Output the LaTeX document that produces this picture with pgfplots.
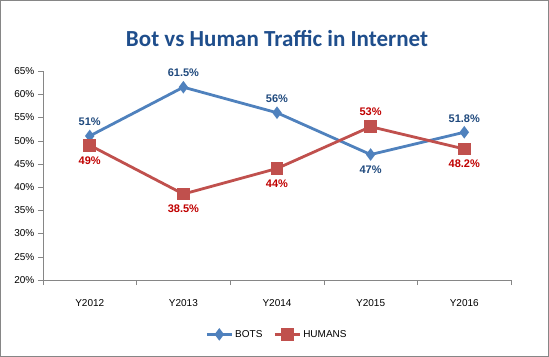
\documentclass[border=0pt]{standalone}
\usepackage{pgfplots}
\pgfplotsset{compat=1.18}
\usepackage{fontspec}
\setmainfont{Liberation Sans}
\newfontfamily\titlefont{Carlito}
\definecolor{botc}{HTML}{4F81BD}
\definecolor{humc}{HTML}{C0504D}
\definecolor{botl}{HTML}{1F497D}
\definecolor{huml}{HTML}{C00000}
\definecolor{titlec}{HTML}{1F4E8C}
\definecolor{axc}{HTML}{868686}
\begin{document}
\begin{tikzpicture}
\begin{axis}[
  scale only axis,
  width=468pt, height=209pt,
  xmin=-0.5, xmax=4.5,
  ymin=20, ymax=65,
  axis lines=left,
  axis line style={axc, -},
  xtick={0,1,2,3,4},
  xticklabels={Y2012,Y2013,Y2014,Y2015,Y2016},
  major x tick style={draw=none},
  minor xtick={-0.5,0.5,1.5,2.5,3.5,4.5},
  minor x tick style={axc},
  minor tick length=5pt,
  ytick={20,25,...,65},
  yticklabel={\pgfmathprintnumber{\tick}\%},
  major tick length=5pt,
  tick align=outside,
  y tick style={axc},
  tick label style={font=\fontsize{10}{12}\selectfont, black},
  /pgf/number format/assume math mode=true,
  xticklabel style={yshift=-11pt},
  title={\titlefont\bfseries Bot vs Human Traffic in Internet},
  title style={font=\fontsize{23}{27}\selectfont, text=titlec, yshift=15pt},
  legend style={at={(0.5,-0.26)}, anchor=center, draw=none, legend columns=2,
    font=\fontsize{10}{12}\selectfont, /tikz/every even column/.append style={column sep=9pt}},
  legend image code/.code={
    \draw[#1, mark repeat=2, mark phase=2] plot coordinates {(0pt,0pt) (12.5pt,0pt) (25pt,0pt)};},
  nodes near coords,
  point meta=explicit symbolic,
  visualization depends on={\thisrow{dy} \as \dy},
  every node near coord/.append style={anchor=center, yshift=\dy pt, font=\fontsize{11}{13}\selectfont\bfseries},
  clip=false,
]
\addplot[botc, line width=2.8pt, mark=diamond*, mark size=4pt, mark options={solid}, every node near coord/.append style={text=botl}]
  table[x=x, y=y, meta=lab] {
x y lab dy
0 51 51\% 14
1 61.5 61.5\% 14
2 56 56\% 14
3 47 47\% -15
4 51.8 51.8\% 14
};
\addlegendentry{BOTS}
\addplot[humc, line width=2.8pt, mark=square*, mark size=5pt, mark options={solid}, every node near coord/.append style={text=huml}]
  table[x=x, y=y, meta=lab] {
x y lab dy
0 49 49\% -15
1 38.5 38.5\% -15
2 44 44\% -15
3 53 53\% 15
4 48.2 48.2\% -15
};
\addlegendentry{HUMANS}
\end{axis}
\draw[axc, line width=0.8pt] ([xshift=-42.5pt, yshift=-76.5pt]current axis.south west) rectangle ([xshift=37.5pt, yshift=70.5pt]current axis.north east);
\end{tikzpicture}
\end{document}
